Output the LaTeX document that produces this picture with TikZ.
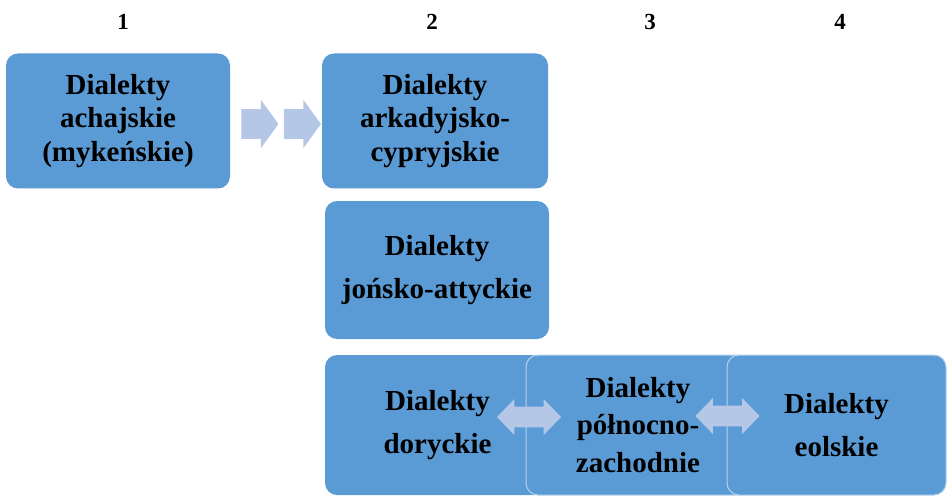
\documentclass[tikz,border=0pt]{standalone}
\usepackage{fontspec}
\setmainfont{Liberation Serif}
\usetikzlibrary{shapes.arrows}
\definecolor{boxblue}{HTML}{5B9BD5}
\definecolor{arrowblue}{HTML}{B4C7E7}
\tikzset{
  dialect/.style={fill=boxblue,rounded corners=12pt,inner sep=0pt,align=center,text=black,
    font=\fontsize{29}{33.5}\selectfont\bfseries},
  rimmed/.style={dialect,draw=white!55!boxblue,line width=1pt},
  colnum/.style={font=\fontsize{23}{27}\selectfont\bfseries},
  chevron/.style={single arrow,fill=arrowblue,inner xsep=0pt,inner ysep=11.5pt,
    minimum height=37pt,minimum width=48pt,single arrow tip angle=108,font=\normalsize},
  twoway/.style={double arrow,fill=arrowblue,inner xsep=0pt,inner ysep=9.5pt,
    minimum height=64pt,minimum width=36pt,double arrow tip angle=92,font=\normalsize}
}
\begin{document}
\begin{tikzpicture}[x=1pt,y=-1pt]
\useasboundingbox (0,0) rectangle (947,497);
\node[colnum] (n1) at (123,22) {1};
\node[colnum] (n2) at (432,22) {2};
\node[colnum] (n3) at (650,22) {3};
\node[colnum] (n4) at (840,22) {4};
\node[dialect,minimum width=224pt,minimum height=135pt] (achaj) at (118,121) {Dialekty\\achajskie\\(mykeńskie)};
\node[dialect,minimum width=226pt,minimum height=135pt] (arkad) at (435,121) {Dialekty\\arkadyjsko-\\cypryjskie};
\node[dialect,minimum width=224pt,minimum height=138pt] (jonsk) at (437,270) {Dialekty\\[10pt]jońsko-attyckie};
\node[dialect,minimum width=225pt,minimum height=140pt] (doryc) at (437.5,425) {Dialekty\\[9pt]doryckie};
\node[rimmed,minimum width=224pt,minimum height=140pt] (polno) at (638,425) {Dialekty\\[4pt]północno-\\[4pt]zachodnie};
\node[rimmed,minimum width=219pt,minimum height=140pt] (eolsk) at (836.5,425) {Dialekty\\[9pt]eolskie};
\node[chevron] (c1) at (254.5,124) {};
\node[chevron] (c2) at (297,124) {};
\node[twoway] (d1) at (529,417) {};
\node[twoway] (d2) at (727.5,416) {};
\end{tikzpicture}
\end{document}
